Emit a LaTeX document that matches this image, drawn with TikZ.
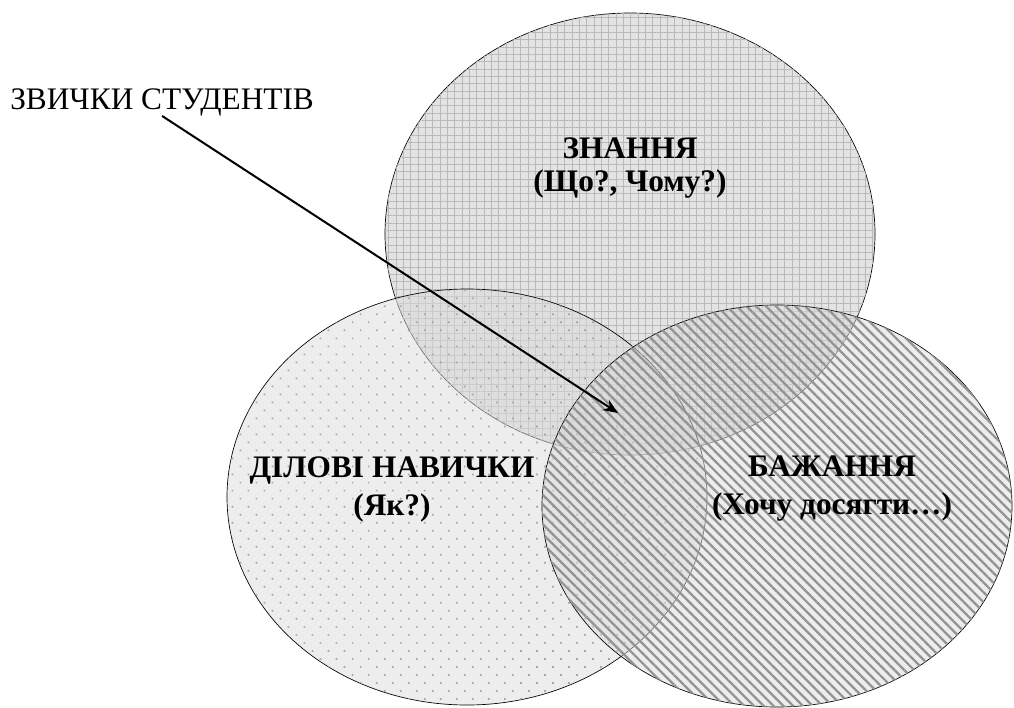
\documentclass[tikz,border=0pt]{standalone}
\usepackage{fontspec}
\setmainfont{Liberation Serif}
\usetikzlibrary{arrows.meta,patterns.meta}

\begin{document}
\begin{tikzpicture}[x=0.75pt,y=-0.75pt,>={Stealth[length=11pt,width=9pt]},
    set line/.style={draw=black,line width=0.5pt},
    know set/.style={set line,fill=gray!22,
        postaction={pattern={Hatch[angle=0,distance=5.5pt,line width=0.7pt]},pattern color=gray!55}},
    skill set/.style={set line,fill=gray!28,fill opacity=0.5,
        postaction={fill opacity=0.9,pattern={Dots[angle=45,distance=8.5pt,radius=0.9pt]},pattern color=gray!75}},
    wish set/.style={set line,fill=gray!28,fill opacity=0.5,
        postaction={fill opacity=0.85,pattern={Lines[angle=-45,distance=5.2pt,line width=1.7pt]},pattern color=gray!85}},
    label node/.style={font=\fontsize{23.5}{24}\selectfont\bfseries,align=center},
    habit node/.style={font=\fontsize{23.5}{24}\selectfont,inner sep=0pt}]
    \useasboundingbox (0,0) rectangle (1014,707);

    % three sets
    \path[know set] (630,234) ellipse [x radius=245, y radius=221];
    \path[skill set] (467,497) ellipse [x radius=240, y radius=208];
    \path[wish set] (777,506) ellipse [x radius=235, y radius=201];

    \node[label node] (know) at (630,168) {ЗНАННЯ\\[1pt](Що?, Чому?)};
    \node[label node] (skill) at (392,489) {ДІЛОВІ НАВИЧКИ\\[4.5pt](Як?)};
    \node[label node] (wish) at (832,489) {БАЖАННЯ\\[4.5pt](Хочу досягти…)};

    % pointer to the common part
    \node[habit node,anchor=base west] (habit) at (10,109) {ЗВИЧКИ СТУДЕНТІВ};
    \coordinate (core) at (618,413);
    \draw[->,line width=1.5pt] (habit.south) -- (core);
\end{tikzpicture}
\end{document}
